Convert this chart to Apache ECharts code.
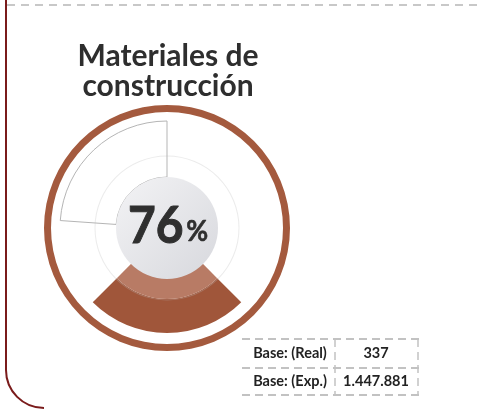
<!DOCTYPE html>
<html>
<head>
<meta charset="utf-8">
<script src="https://cdn.jsdelivr.net/npm/echarts@6/dist/echarts.min.js"></script>
<style>
  html, body { margin: 0; padding: 0; background: #fff; }
  #chart { width: 481px; height: 410px; }
</style>
</head>
<body>
<div id="chart"></div>
<script>
  // datos
  var titleLines = ['Materiales de', 'construcción'];
  var percent = [76];
  var tableLabels = ['Base: (Real)', 'Base: (Exp.)'];
  var tableValues = ['337', '1.447.881'];

  var cx = 167, cy = 228;
  var brown = '#a0563a';
  var font = 'Lato';

  var myChart = echarts.init(document.getElementById('chart'));

  // anillos y sectores (pie)
  function ring(name, r, start, parts, z) {
    return {
      type: 'pie',
      name: name,
      silent: true,
      center: [cx, cy],
      radius: r,
      startAngle: start,
      clockwise: true,
      label: { show: false },
      labelLine: { show: false },
      emphasis: { disabled: true },
      animation: false,
      z: z,
      data: parts
    };
  }
  var none = { color: 'rgba(0,0,0,0)', borderWidth: 0 };

  var series = [
    // circulo tenue
    ring('guia', [71.5, 72.5], 90, [{ value: 1, itemStyle: { color: 'rgba(190,190,190,0.3)', borderWidth: 0 } }], 6),
    // sector contorno
    ring('contorno', [51, 107], 176, [
      { value: 86, itemStyle: { color: 'rgba(0,0,0,0)', borderColor: '#b5b5b5', borderWidth: 1 } },
      { value: 274, itemStyle: none }
    ], 2),
    // sector oscuro
    ring('sector', [71, 105], -45, [
      { value: 90, itemStyle: { color: brown, borderWidth: 0 } },
      { value: 270, itemStyle: none }
    ], 3),
    // sector claro
    ring('sector2', [50, 71], -45, [
      { value: 90, itemStyle: { color: '#b87b65', borderWidth: 0 } },
      { value: 270, itemStyle: none }
    ], 3),
    // circulo central
    ring('centro', [0, 51], 90, [{ value: 1, itemStyle: {
      borderWidth: 0,
      color: new echarts.graphic.LinearGradient(0, 0, 1, 1, [
        { offset: 0, color: '#f3f3f5' },
        { offset: 1, color: '#d7d8dd' }
      ])
    } }], 7),
    // anillo exterior
    ring('anillo', [116, 123], 90, [{ value: 1, itemStyle: { color: '#a45a3e', borderWidth: 0 } }], 4)
  ];

  // tabla
  var tableGraphics = [];
  var dash = { stroke: '#c2c2c2', lineWidth: 2, lineDash: [8, 5] };
  var rowsY = [339, 368, 395];
  rowsY.forEach(function (y) {
    tableGraphics.push({ type: 'line', shape: { x1: 242, y1: y, x2: 419, y2: y }, style: dash, silent: true });
  });
  [335, 418].forEach(function (x) {
    tableGraphics.push({ type: 'line', shape: { x1: x, y1: 339, x2: x, y2: 395 }, style: { stroke: '#c2c2c2', lineWidth: 1.5, lineDash: [8, 5] }, silent: true });
  });
  tableLabels.forEach(function (t, i) {
    var y = (rowsY[i] + rowsY[i + 1]) / 2;
    tableGraphics.push({ type: 'text', x: 290, y: y, style: { text: t, fill: '#222', font: 'bold 14.5px ' + font, align: 'center', verticalAlign: 'middle' } });
    tableGraphics.push({ type: 'text', x: 376, y: y, style: { text: tableValues[i], fill: '#222', font: 'bold 14.5px ' + font, align: 'center', verticalAlign: 'middle' } });
  });

  var option = {
    backgroundColor: '#fff',
    title: {
      text: titleLines.join('\n'),
      left: 163,
      top: 36,
      textAlign: 'center',
      textStyle: { fontFamily: font, fontWeight: 'bold', fontSize: 30, lineHeight: 30, color: '#2e2e2e' }
    },
    series: series,
    graphic: [
      // marco
      { type: 'line', shape: { x1: 7, y1: 5, x2: 481, y2: 5 }, style: { stroke: '#c8c8c8', lineWidth: 2, lineDash: [8, 6] }, silent: true },
      { type: 'line', shape: { x1: 6, y1: 0, x2: 6, y2: 370 }, style: { stroke: '#7a1b1b', lineWidth: 2 }, silent: true },
      { type: 'arc', shape: { cx: 44, cy: 370, r: 38, startAngle: Math.PI / 2, endAngle: Math.PI, clockwise: true }, style: { stroke: '#7a1b1b', lineWidth: 2, fill: null }, silent: true },
      // porcentaje
      { type: 'text', x: 168, y: 226, z: 100, scaleX: 0.92, style: {
        text: '{a|' + percent[0] + '}{b|%}',
        align: 'center', verticalAlign: 'middle',
        rich: {
          a: { fontFamily: font, fontWeight: 'bold', fontSize: 52, fill: '#2f2f2f', stroke: '#2f2f2f', lineWidth: 1 },
          b: { fontFamily: font, fontWeight: 'bold', fontSize: 29, fill: '#2f2f2f', stroke: '#2f2f2f', lineWidth: 0.6, padding: [12, 0, 0, 3] }
        }
      } }
    ].concat(tableGraphics)
  };

  myChart.setOption(option);
</script>
</body>
</html>
